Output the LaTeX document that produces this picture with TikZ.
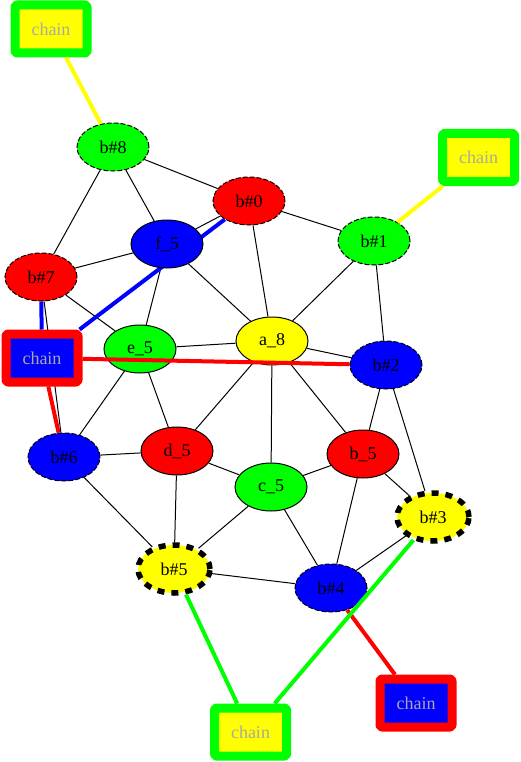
\documentclass[tikz,border=0pt]{standalone}
\usepackage{fontspec}
\setmainfont{Liberation Serif}
\usetikzlibrary{shapes.geometric,backgrounds}
\definecolor{gvgreen}{RGB}{0,255,0}
\definecolor{gvyellow}{RGB}{255,255,0}
\definecolor{gvblue}{RGB}{0,0,255}
\definecolor{gvred}{RGB}{255,0,0}
\definecolor{chaintext}{RGB}{169,169,169}
\tikzset{
  ell/.style={ellipse, draw=black, line width=1pt, minimum width=72pt, minimum height=48pt, inner sep=0pt, font=\fontsize{18}{20}\selectfont},
  thindash/.style={ell, dash pattern=on 5pt off 2pt},
  thickdash/.style={ell, line width=5.5pt, dash pattern=on 7pt off 7pt},
  chainbox/.style={rectangle, minimum width=72pt, minimum height=48pt, line width=9pt, rounded corners=2pt, line join=round, text=chaintext, inner sep=0pt, font=\fontsize{18}{20}\selectfont},
  gedge/.style={line width=1pt, draw=black},
  cedge/.style={line width=4pt}
}
\begin{document}
\begin{tikzpicture}[x=1pt,y=-1pt]
\useasboundingbox (0,0) rectangle (520,762);
% chain boxes
\node[chainbox, draw=gvgreen, fill=gvyellow] (c1) at (51,29) {chain};
\node[chainbox, draw=gvgreen, fill=gvyellow] (c2) at (478.5,157.5) {chain};
\node[chainbox, draw=gvred, fill=gvblue] (c3) at (42,358) {chain};
\node[chainbox, draw=gvred, fill=gvblue] (c4) at (416,703) {chain};
\node[chainbox, draw=gvgreen, fill=gvyellow] (c5) at (250.5,732) {chain};
% ellipses
\node[thindash, fill=gvgreen] (b8) at (113,147) {b\#8};
\node[thindash, fill=gvred] (b0) at (249,201) {b\#0};
\node[thindash, fill=gvgreen] (b1) at (374,241) {b\#1};
\node[ell, fill=gvblue] (f5) at (167,244) {f\_5};
\node[thindash, fill=gvred] (b7) at (41,277) {b\#7};
\node[ell, fill=gvgreen] (e5) at (140,349) {e\_5};
\node[ell, fill=gvyellow] (a8) at (272,341) {a\_8};
\node[thindash, fill=gvblue] (b2) at (386,365) {b\#2};
\node[thindash, fill=gvblue] (b6) at (64,457) {b\#6};
\node[ell, fill=gvred] (d5) at (177,451) {d\_5};
\node[ell, fill=gvred] (bu5) at (363,454) {b\_5};
\node[ell, fill=gvgreen] (c5n) at (271,487) {c\_5};
\node[thickdash, fill=gvyellow] (b3) at (433,517) {b\#3};
\node[thickdash, fill=gvyellow] (b5) at (174,569) {b\#5};
\node[thindash, fill=gvblue] (b4) at (331,588) {b\#4};
\begin{pgfonlayer}{background}
\draw[gedge] (b8) -- (b0);
\draw[gedge] (b8) -- (f5);
\draw[gedge] (b8) -- (b7);
\draw[gedge] (b0) -- (f5);
\draw[gedge] (b0) -- (a8);
\draw[gedge] (b0) -- (b1);
\draw[gedge] (b1) -- (a8);
\draw[gedge] (b1) -- (b2);
\draw[gedge] (f5) -- (b7);
\draw[gedge] (f5) -- (e5);
\draw[gedge] (f5) -- (a8);
\draw[gedge] (b7) -- (e5);
\draw[gedge] (b7) -- (b6);
\draw[gedge] (e5) -- (a8);
\draw[gedge] (e5) -- (b6);
\draw[gedge] (e5) -- (d5);
\draw[gedge] (a8) -- (b2);
\draw[gedge] (a8) -- (d5);
\draw[gedge] (a8) -- (c5n);
\draw[gedge] (a8) -- (bu5);
\draw[gedge] (b2) -- (bu5);
\draw[gedge] (b2) -- (b3);
\draw[gedge] (b6) -- (d5);
\draw[gedge] (b6) -- (b5);
\draw[gedge] (d5) -- (c5n);
\draw[gedge] (d5) -- (b5);
\draw[gedge] (bu5) -- (c5n);
\draw[gedge] (bu5) -- (b3);
\draw[gedge] (bu5) -- (b4);
\draw[gedge] (c5n) -- (b5);
\draw[gedge] (c5n) -- (b4);
\draw[gedge] (b5) -- (b4);
\draw[gedge] (b4) -- (b3);
\draw[cedge, gvblue] (c3) -- (b0);
\end{pgfonlayer}
% coloured edges on top
\draw[cedge, gvyellow] (c1) -- (b8);
\draw[cedge, gvyellow] (c2) -- (b1);
\draw[cedge, gvblue] (c3) -- (b7);
\draw[cedge, gvred] (c3) -- (b2);
\draw[cedge, gvred] (c3) -- (b6);
\draw[cedge, gvred] (c4) -- (b4);
\draw[cedge, gvgreen] (c5) -- (b5);
\draw[cedge, gvgreen] (c5) -- (b3);
\end{tikzpicture}
\end{document}
